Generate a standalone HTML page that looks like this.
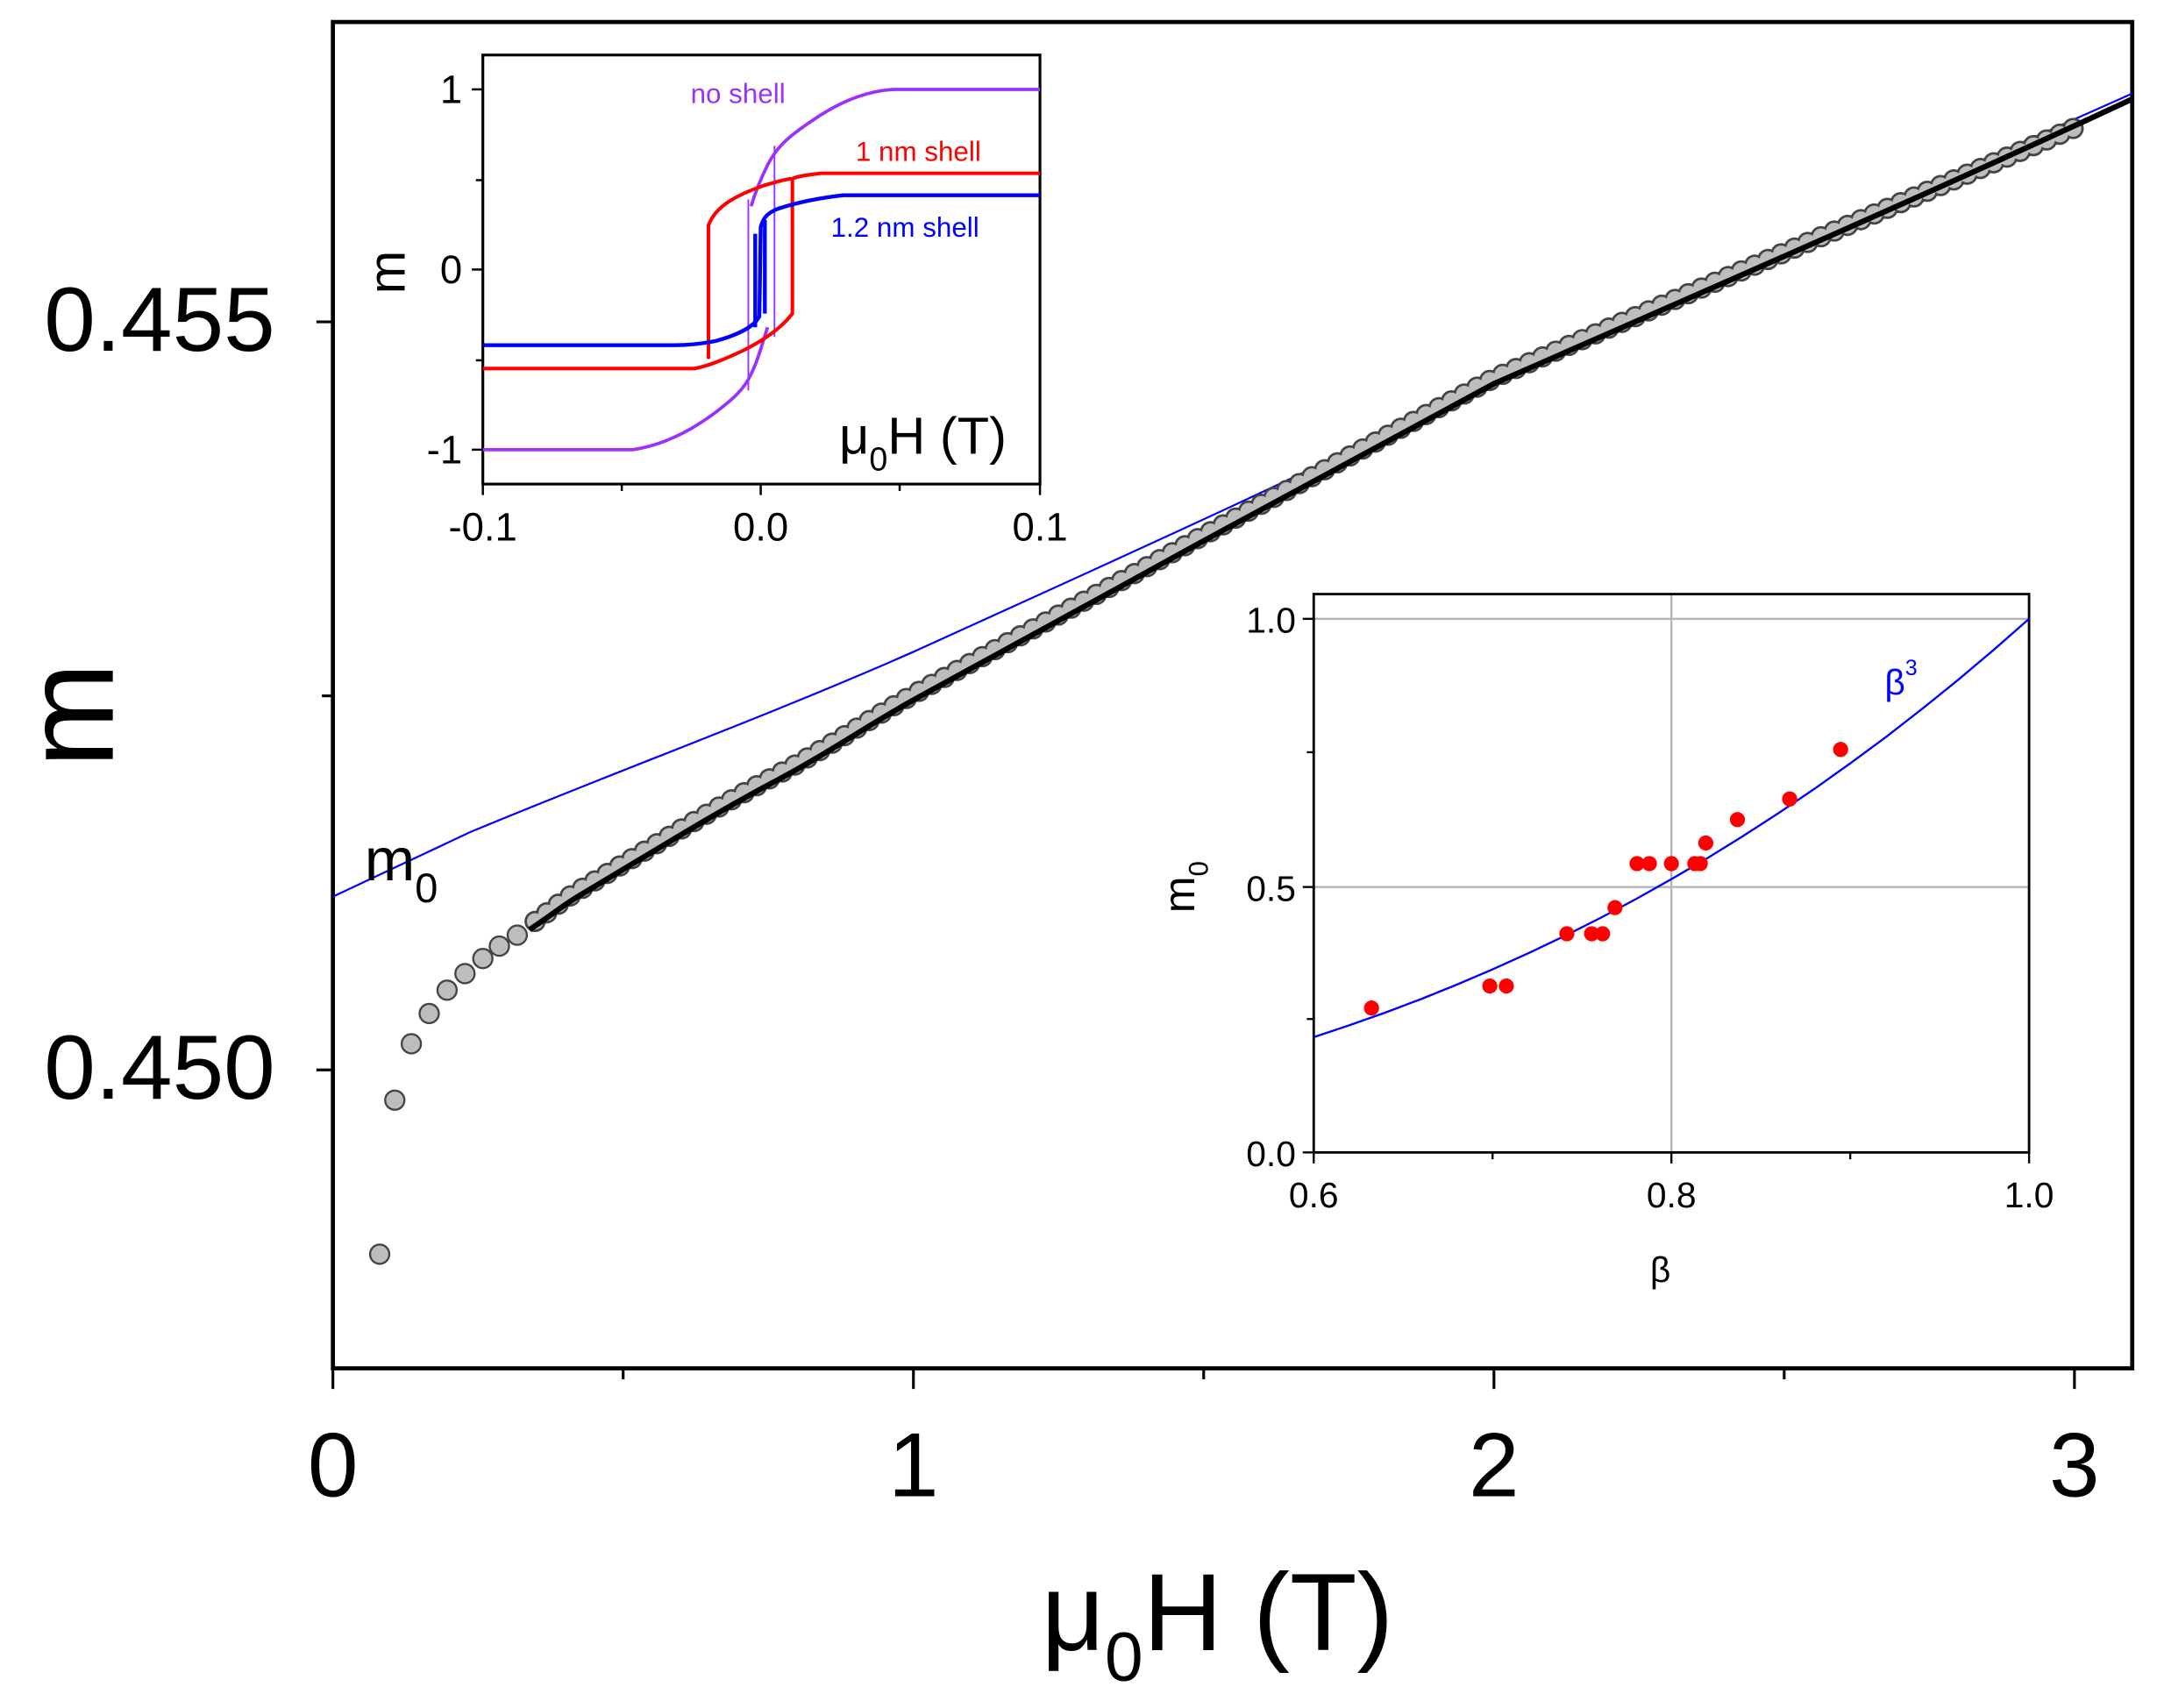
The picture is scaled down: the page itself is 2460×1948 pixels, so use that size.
<!DOCTYPE html>
<html><head><meta charset="utf-8"><style>
html,body{margin:0;padding:0;background:#fff;}
svg{display:block;}
text{font-family:"Liberation Sans",Arial,sans-serif;}
</style></head><body>
<svg width="2460" height="1948" viewBox="0 0 1568 1242" preserveAspectRatio="none" xmlns="http://www.w3.org/2000/svg">
<rect width="1568" height="1242" fill="#fff"/>
<defs><clipPath id="mc"><rect x="242" y="16" width="1308" height="979"/></clipPath></defs>
<rect x="242" y="16" width="1308" height="979" fill="none" stroke="#000" stroke-width="3"/>
<g stroke="#000" stroke-width="2">
<line x1="230" y1="234" x2="242" y2="234"/><line x1="234" y1="506" x2="242" y2="506"/><line x1="230" y1="778" x2="242" y2="778"/>
<line x1="242" y1="995" x2="242" y2="1010"/><line x1="453" y1="995" x2="453" y2="1003"/><line x1="664" y1="995" x2="664" y2="1010"/><line x1="875" y1="995" x2="875" y2="1003"/><line x1="1086" y1="995" x2="1086" y2="1010"/><line x1="1297" y1="995" x2="1297" y2="1003"/><line x1="1508" y1="995" x2="1508" y2="1010"/>
</g>
<g font-size="66" fill="#000">
<text x="200" y="255" text-anchor="end" textLength="168" lengthAdjust="spacingAndGlyphs">0.455</text>
<text x="200" y="799" text-anchor="end" textLength="168" lengthAdjust="spacingAndGlyphs">0.450</text>
<g text-anchor="middle"><text x="242" y="1088">0</text><text x="664" y="1088">1</text><text x="1086" y="1088">2</text><text x="1508" y="1088">3</text></g>
</g>
<text transform="translate(82,520) rotate(-90)" font-size="92" text-anchor="middle">m</text>
<text x="757" y="1200" font-size="80">μ<tspan font-size="50" dy="22">0</tspan><tspan dy="-22">H (T)</tspan></text>
<g clip-path="url(#mc)">
<path d="M242,652 L342,605 C450,560 560,520 664,474 C800,412 950,345 1086,276 C1250,200 1400,135 1550,68" fill="none" stroke="#0000ff" stroke-width="1.4"/>
<g fill="#bdbdbd" stroke="#444" stroke-width="1.5">
<circle cx="276" cy="912" r="7"/><circle cx="287" cy="800" r="7"/><circle cx="299" cy="759" r="7"/><circle cx="312" cy="737" r="7"/><circle cx="325" cy="720" r="7"/><circle cx="338" cy="708" r="7"/><circle cx="351" cy="697" r="7"/><circle cx="363" cy="688" r="7"/><circle cx="376" cy="680" r="7"/>
</g>
<path d="M389,670 C400,662 410,654 420,648 C440,636 455,627 470,618 C500,600 530,582 560,566 C600,545 630,524 664,505 C760,452 800,431 870,392 C950,349 1020,310 1086,275 C1250,203 1400,140 1508,93" fill="none" stroke="#444" stroke-width="15.5" stroke-dasharray="0 10.5" stroke-linecap="round"/>
<path d="M389,670 C400,662 410,654 420,648 C440,636 455,627 470,618 C500,600 530,582 560,566 C600,545 630,524 664,505 C760,452 800,431 870,392 C950,349 1020,310 1086,275 C1250,203 1400,140 1508,93" fill="none" stroke="#bdbdbd" stroke-width="12" stroke-dasharray="0 10.5" stroke-linecap="round"/>
<path d="M385,676 C400,666 410,658 420,652 C440,640 455,631 470,622 C500,604 530,586 560,570 C600,549 630,528 664,509 C760,456 800,435 870,396 C950,353 1020,314 1086,279 C1250,207 1400,142 1550,72" fill="none" stroke="#000" stroke-width="4"/>
</g>
<text x="265" y="640" font-size="44">m<tspan font-size="30" dy="16">0</tspan></text>

<!-- inset 1 -->
<rect x="351" y="40" width="405" height="312" fill="#fff" stroke="#000" stroke-width="2"/>
<g stroke="#000" stroke-width="1.6">
<line x1="343" y1="65" x2="351" y2="65"/><line x1="346" y1="131" x2="351" y2="131"/><line x1="343" y1="196" x2="351" y2="196"/><line x1="346" y1="262" x2="351" y2="262"/><line x1="343" y1="327" x2="351" y2="327"/>
<line x1="351" y1="352" x2="351" y2="360"/><line x1="452" y1="352" x2="452" y2="357"/><line x1="553" y1="352" x2="553" y2="360"/><line x1="654" y1="352" x2="654" y2="357"/><line x1="756" y1="352" x2="756" y2="360"/>
</g>
<g font-size="29">
<text x="336" y="75" text-anchor="end">1</text><text x="336" y="206" text-anchor="end">0</text><text x="336" y="337" text-anchor="end">-1</text>
<text x="351" y="393" text-anchor="middle">-0.1</text><text x="553" y="393" text-anchor="middle">0.0</text><text x="756" y="393" text-anchor="middle">0.1</text>
</g>
<text transform="translate(294,198) rotate(-90)" font-size="38" text-anchor="middle">m</text>
<text x="610" y="330" font-size="38">μ<tspan font-size="24" dy="12">0</tspan><tspan dy="-12">H (T)</tspan></text>
<g fill="none" stroke="#9b30ff">
<path d="M756,65 L650,65 C630,66 610,74 590,88 C575,98 565,106 558,120 C552,132 549,140 546,150" stroke-width="2.4"/>
<path d="M351,327 L460,327 C480,324 500,315 520,300 C533,290 541,283 546,272 C551,262 554,250 558,238" stroke-width="2.4"/>
<line x1="563" y1="106" x2="563" y2="245" stroke-width="1.2"/>
<line x1="544" y1="145" x2="544" y2="284" stroke-width="1.2"/>
</g>
<g fill="none" stroke="#ff0000" stroke-width="2.6">
<path d="M756,126 L597,126 C588,127 580,128 576,130 L576,228 C570,236 560,245 540,255 C525,262 515,266 505,268 L351,268"/>
<path d="M515,261 L515,164 C520,150 535,142 555,135 C565,132 572,130 576,130"/>
</g>
<g fill="none" stroke="#0000ff" stroke-width="2.8">
<path d="M756,142 L613,142 C595,144 580,147 565,152 C558,155 555,158 553,165 L552,230 C548,238 535,244 520,248 C510,250 500,251 490,251 L351,251"/>
<path d="M556,160 L556,228 M549,170 L549,238"/>
</g>
<text x="502" y="75" font-size="20" fill="#9b30ff">no shell</text>
<text x="622" y="117" font-size="20" fill="#ff0000">1 nm shell</text>
<text x="604" y="172" font-size="20" fill="#0000ff">1.2 nm shell</text>

<!-- inset 2 -->
<rect x="955" y="432" width="520" height="406" fill="#fff"/>
<g stroke="#b4b4b4" stroke-width="1.5">
<line x1="1215" y1="432" x2="1215" y2="838"/><line x1="955" y1="450" x2="1475" y2="450"/><line x1="955" y1="645" x2="1475" y2="645"/>
</g>
<rect x="955" y="432" width="520" height="406" fill="none" stroke="#000" stroke-width="1.8"/>
<g stroke="#000" stroke-width="1.5">
<line x1="947" y1="450" x2="955" y2="450"/><line x1="950" y1="547" x2="955" y2="547"/><line x1="947" y1="645" x2="955" y2="645"/><line x1="950" y1="741" x2="955" y2="741"/><line x1="947" y1="838" x2="955" y2="838"/>
<line x1="955" y1="838" x2="955" y2="846"/><line x1="1085" y1="838" x2="1085" y2="843"/><line x1="1215" y1="838" x2="1215" y2="846"/><line x1="1345" y1="838" x2="1345" y2="843"/><line x1="1475" y1="838" x2="1475" y2="846"/>
</g>
<g font-size="26">
<text x="942" y="460" text-anchor="end">1.0</text><text x="942" y="655" text-anchor="end">0.5</text><text x="942" y="848" text-anchor="end">0.0</text>
<text x="955" y="878" text-anchor="middle">0.6</text><text x="1215" y="878" text-anchor="middle">0.8</text><text x="1475" y="878" text-anchor="middle">1.0</text>
<text x="1207" y="932" text-anchor="middle">β</text>
</g>
<text transform="translate(868,645) rotate(-90)" font-size="32" text-anchor="middle">m<tspan font-size="20" dy="10">0</tspan></text>
<polyline fill="none" stroke="#0000ff" stroke-width="1.5" points="955,754.2 981,745.5 1007,736.3 1033,726.5 1059,716 1085,704.9 1111,693.2 1137,680.8 1163,667.7 1189,653.9 1215,639.3 1241,624.1 1267,608 1293,591.2 1319,573.6 1345,555.1 1371,535.9 1397,515.7 1423,494.7 1449,472.8 1475,450"/>
<text x="1370" y="505" font-size="26" fill="#0000ff">β<tspan font-size="16" dy="-14">3</tspan></text>
<g fill="#ff0000">
<circle cx="997" cy="733" r="5.5"/><circle cx="1083" cy="717" r="5.5"/><circle cx="1095" cy="717" r="5.5"/>
<circle cx="1139" cy="679" r="5.5"/><circle cx="1157" cy="679" r="5.5"/><circle cx="1165" cy="679" r="5.5"/><circle cx="1174" cy="660" r="5.5"/>
<circle cx="1190" cy="628" r="5.5"/><circle cx="1199" cy="628" r="5.5"/><circle cx="1215" cy="628" r="5.5"/><circle cx="1232" cy="628" r="5.5"/><circle cx="1236" cy="628" r="5.5"/>
<circle cx="1240" cy="613" r="5.5"/><circle cx="1263" cy="596" r="5.5"/><circle cx="1301" cy="581" r="5.5"/><circle cx="1338" cy="545" r="5.5"/>
</g>
</svg>
</body></html>
